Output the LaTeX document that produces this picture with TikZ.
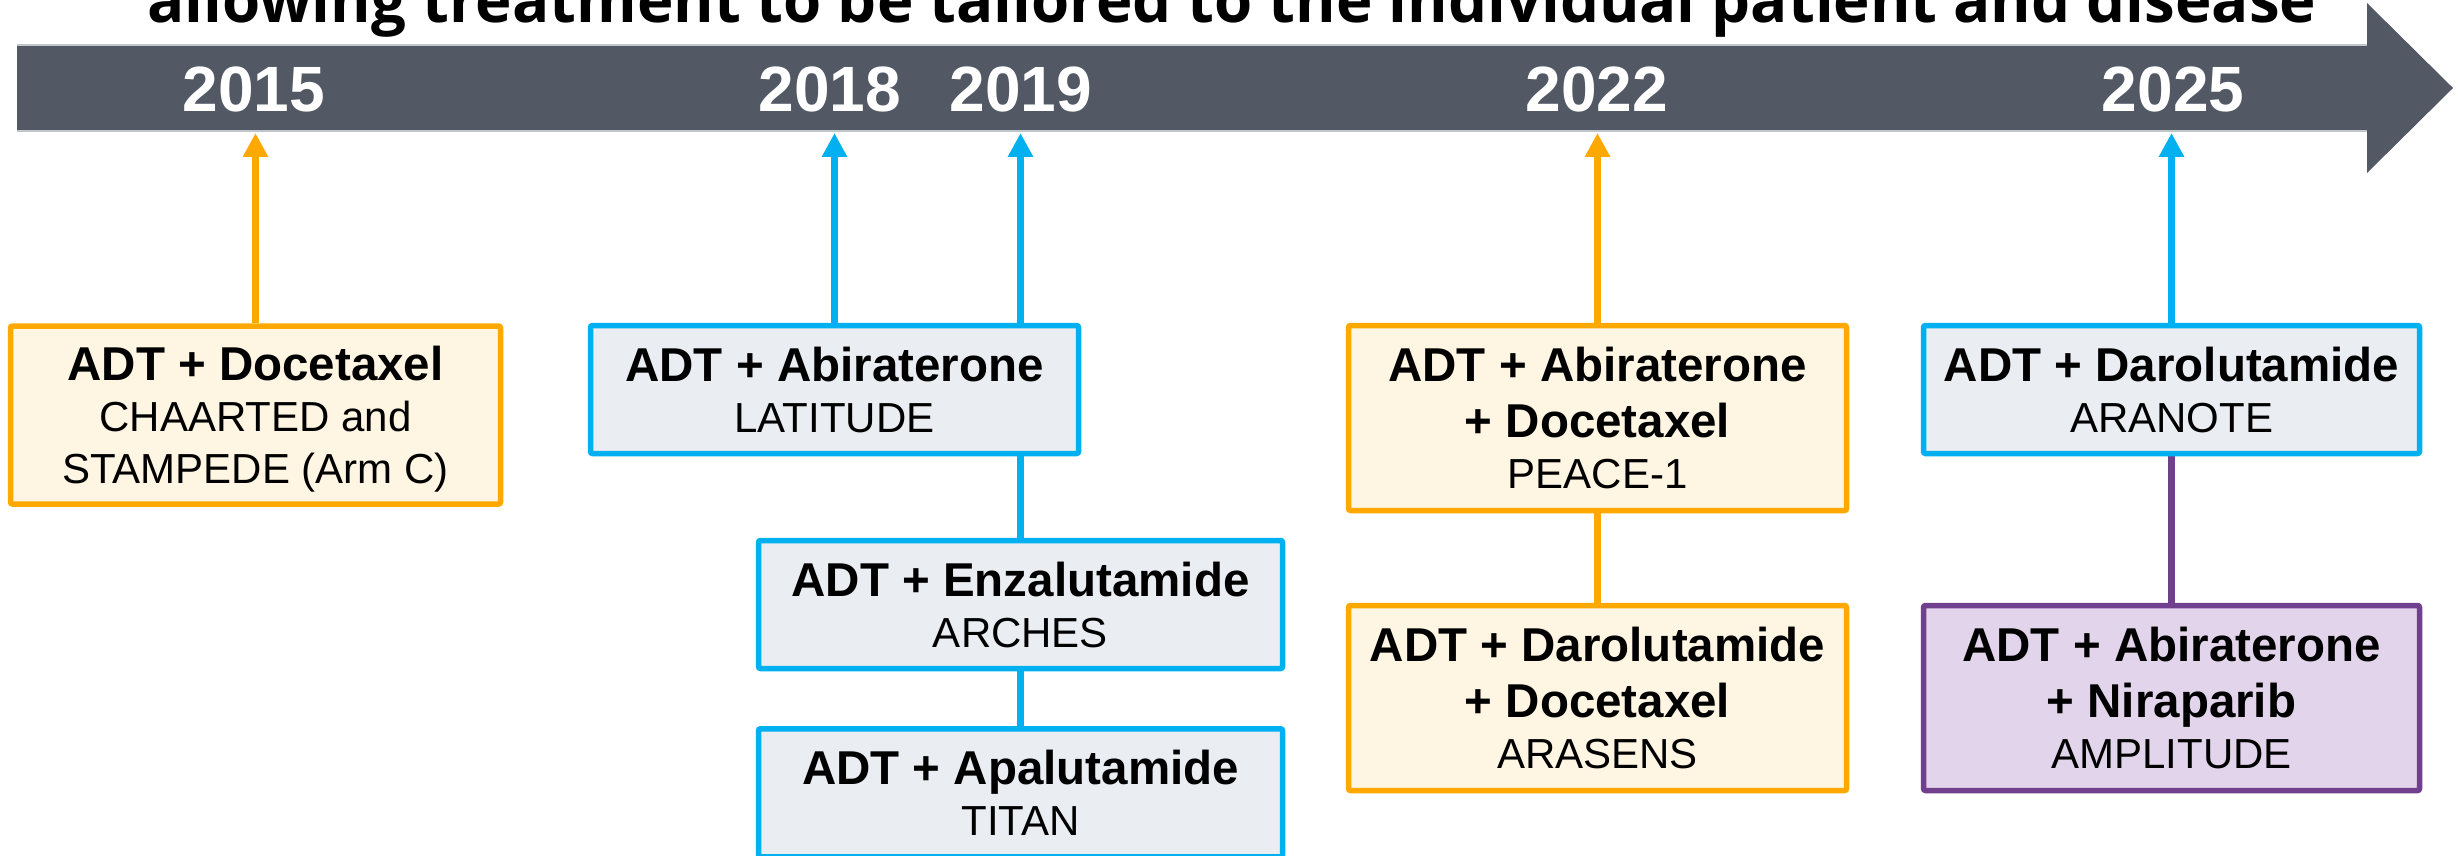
\documentclass[tikz,border=0pt]{standalone}
\usepackage{fontspec}
\usepackage{graphicx}
\setmainfont{Liberation Sans}
\newfontfamily\titlefont{Open Sans}
\usetikzlibrary{arrows.meta,backgrounds}
\definecolor{barc}{RGB}{82,89,101}
\definecolor{baredge}{RGB}{192,197,203}
\definecolor{oline}{RGB}{255,168,0}
\definecolor{ofill}{RGB}{255,245,227}
\definecolor{bline}{RGB}{0,176,240}
\definecolor{bfill}{RGB}{234,237,242}
\definecolor{pline}{RGB}{112,64,142}
\definecolor{pfill}{RGB}{226,212,234}
\tikzset{
  tbox/.style={draw, line width=5.5pt, rounded corners=2pt, inner sep=0pt, align=center,
    text depth=0pt, font=\fontsize{42}{51}\selectfont},
  obox/.style={tbox, draw=oline, fill=ofill},
  bbox/.style={tbox, draw=bline, fill=bfill},
  pbox/.style={tbox, draw=pline, fill=pfill},
  conn/.style={line width=7pt},
  uparrow/.style={conn, -{Triangle[length=24pt,width=24pt]}},
  yearlbl/.style={text=white, font=\bfseries\fontsize{64}{70}\selectfont, anchor=base, inner sep=0pt},
}
\newcommand{\hd}[1]{{\bfseries\fontsize{47.5}{51}\selectfont #1}}
\begin{document}
\begin{tikzpicture}[x=1pt,y=-1pt]
\useasboundingbox (0,0) rectangle (2458,856);
\clip (0,0) rectangle (2458,856);
% title (cut off at top)
\node[anchor=base west, inner sep=0pt] (title) at (147,23)
  {\resizebox{2169pt}{!}{\titlefont\bfseries\fontsize{58}{60}\selectfont allowing treatment to be tailored to the individual patient and disease}};
% timeline arrow
\fill[barc] (17,45) -- (2367,45) -- (2367,3) -- (2453,88) -- (2367,173) -- (2367,131) -- (17,131) -- cycle;
\draw[baredge, line width=2pt] (17,45) -- (2367,45);
\draw[baredge, line width=2pt] (17,131) -- (2367,131);
% years
\node[yearlbl] (y15) at (254,112) {2015};
\node[yearlbl] (y18) at (830,112) {2018};
\node[yearlbl] (y19) at (1021,112) {2019};
\node[yearlbl] (y22) at (1597,112) {2022};
\node[yearlbl] (y25) at (2173,112) {2025};
% arrow tip coordinates
\coordinate (t15) at (255.5,133);
\coordinate (t18) at (834.5,133);
\coordinate (t19) at (1020.5,133);
\coordinate (t22) at (1597.5,133);
\coordinate (t25) at (2171.5,133);
% boxes positions
\path
  (255.5,415) coordinate (c1)
  (834.5,389.5) coordinate (c2)
  (1020.5,604.5) coordinate (c3)
  (1020.5,792.75) coordinate (c4)
  (1597.5,418) coordinate (c5)
  (1597.5,698) coordinate (c6)
  (2171.5,389.5) coordinate (c7)
  (2171.5,698) coordinate (c8);
% boxes
\node[obox, minimum width=490pt, minimum height=178pt] (b1) at (c1)
  {\hd{ADT + Docetaxel}\\ CHAARTED and\\[1pt] STAMPEDE (Arm C)};
\node[bbox, minimum width=488pt, minimum height=128pt] (b2) at (c2)
  {\hd{ADT + Abiraterone}\\ LATITUDE};
\node[bbox, minimum width=524pt, minimum height=128pt] (b3) at (c3)
  {\hd{ADT + Enzalutamide}\\ ARCHES};
\node[bbox, minimum width=524pt, minimum height=128pt] (b4) at (c4)
  {\hd{ADT + Apalutamide}\\ TITAN};
\node[obox, minimum width=498pt, minimum height=185pt] (b5) at (c5)
  {\hd{ADT + Abiraterone}\\[5pt] \hd{+ Docetaxel}\\ PEACE-1};
\node[obox, minimum width=498pt, minimum height=185pt] (b6) at (c6)
  {\hd{ADT + Darolutamide}\\[5pt] \hd{+ Docetaxel}\\ ARASENS};
\node[bbox, minimum width=496pt, minimum height=128pt] (b7) at (c7)
  {\hd{ADT + Darolutamide}\\ ARANOTE};
\node[pbox, minimum width=496pt, minimum height=185pt] (b8) at (c8)
  {\hd{ADT + Abiraterone}\\[5pt] \hd{+ Niraparib}\\ AMPLITUDE};
% connectors (behind boxes)
\begin{scope}[on background layer]
  \draw[uparrow, oline] (b1.north) -- (t15);
  \draw[uparrow, bline] (b2.north) -- (t18);
  \draw[uparrow, bline] (b3.north) -- (t19);
  \draw[conn, bline] (b3.south) -- (b4.north);
  \draw[uparrow, oline] (b5.north) -- (t22);
  \draw[conn, oline] (b5.south) -- (b6.north);
  \draw[uparrow, bline] (b7.north) -- (t25);
  \draw[conn, pline] (b7.south) -- (b8.north);
\end{scope}
\end{tikzpicture}
\end{document}
